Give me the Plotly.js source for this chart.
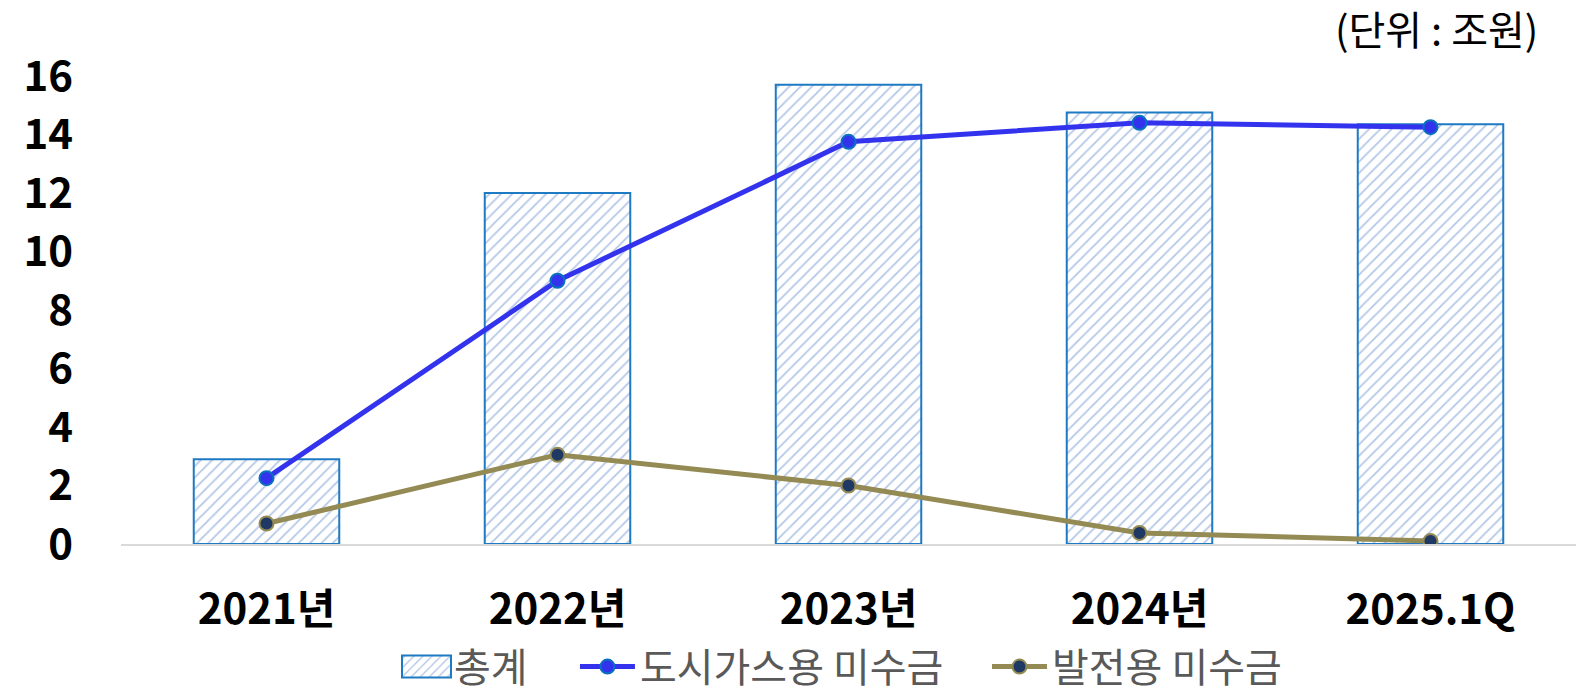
<!DOCTYPE html>
<html>
<head>
<meta charset="utf-8">
<script src="https://cdn.plot.ly/plotly-3.0.1.min.js"></script>
<style>html,body{margin:0;padding:0;background:#fff;}#chart{width:1576px;height:695px;}</style>
</head>
<body>
<div id="chart"></div>
<script>
const categories = ['2021년', '2022년', '2023년', '2024년', '2025.1Q'];
const totalValues = [2.9, 12.0, 15.7, 14.75, 14.35];
const cityGasValues = [2.25, 9.0, 13.75, 14.4, 14.25];
const powerValues = [0.7, 3.05, 2.0, 0.38, 0.1];
const seriesNames = ['총계', '도시가스용 미수금', '발전용 미수금'];
const yTicks = [0, 2, 4, 6, 8, 10, 12, 14, 16];
const unitLabel = '(단위 : 조원)';

const FONT = '"Noto Sans CJK KR", "Noto Sans", sans-serif';

const traces = [
  {
    type: 'bar', name: seriesNames[0], x: categories, y: totalValues, legend: 'legend',
    marker: {
      color: '#ffffff',
      line: {color: '#1f7ac4', width: 2},
      pattern: {shape: '/', fgcolor: '#b4c7e7', bgcolor: '#ffffff', size: 8, solidity: 0.22}
    },
    hoverinfo: 'x+y'
  },
  {
    type: 'scatter', mode: 'lines+markers', name: seriesNames[1], x: categories, y: cityGasValues, legend: 'legend2',
    line: {color: '#3333ee', width: 5},
    marker: {color: '#3333ee', size: 14, line: {color: '#0a70c0', width: 2}}
  },
  {
    type: 'scatter', mode: 'lines+markers', name: seriesNames[2], x: categories, y: powerValues, legend: 'legend3',
    line: {color: '#948a54', width: 5},
    marker: {color: '#1f3864', size: 14, line: {color: '#948a54', width: 2}}
  }
];

function legendBox(x) {
  return {
    orientation: 'h', x: x, xanchor: 'left', xref: 'paper',
    y: -0.262, yanchor: 'middle',
    font: {family: FONT, size: 40, color: '#595959'},
    itemwidth: 55, bgcolor: 'rgba(0,0,0,0)'
  };
}

const layout = {
  width: 1576, height: 695,
  margin: {l: 121, r: 0, t: 76, b: 151, autoexpand: false},
  paper_bgcolor: '#ffffff', plot_bgcolor: '#ffffff',
  font: {family: FONT, color: '#000000'},
  bargap: 0.5,
  showlegend: true,
  legend: legendBox(0.1842),
  legend2: legendBox(0.3120),
  legend3: legendBox(0.5952),
  xaxis: {
    type: 'category',
    showline: true, linecolor: '#d9d9d9', linewidth: 2,
    showgrid: false, zeroline: false, ticks: '',
    tickfont: {family: FONT, size: 42, color: '#000000', weight: 'bold'},
    ticklabelstandoff: 28
  },
  yaxis: {
    range: [0, 16], tickvals: yTicks, ticktext: yTicks.map(String),
    showgrid: false, zeroline: false, showline: false, ticks: '',
    tickfont: {family: FONT, size: 42, color: '#000000', weight: 'bold'},
    ticklabelstandoff: 47
  },
  annotations: [{
    text: unitLabel, xref: 'paper', yref: 'paper', x: 0.9755, y: 1.0,
    xanchor: 'right', yanchor: 'bottom', yshift: 17, showarrow: false,
    font: {family: FONT, size: 40, color: '#000000'}
  }]
};

Plotly.newPlot('chart', traces, layout, {displayModeBar: false, responsive: false}).then(function (gd) {
  // widen the bar legend swatch to the wide hatched box of the original
  const barSwatch = gd.querySelector('.legend .legendpoints path');
  if (barSwatch) barSwatch.setAttribute('d', 'M29.5,11H-19.5V-11H29.5Z');
});
</script>
</body>
</html>
